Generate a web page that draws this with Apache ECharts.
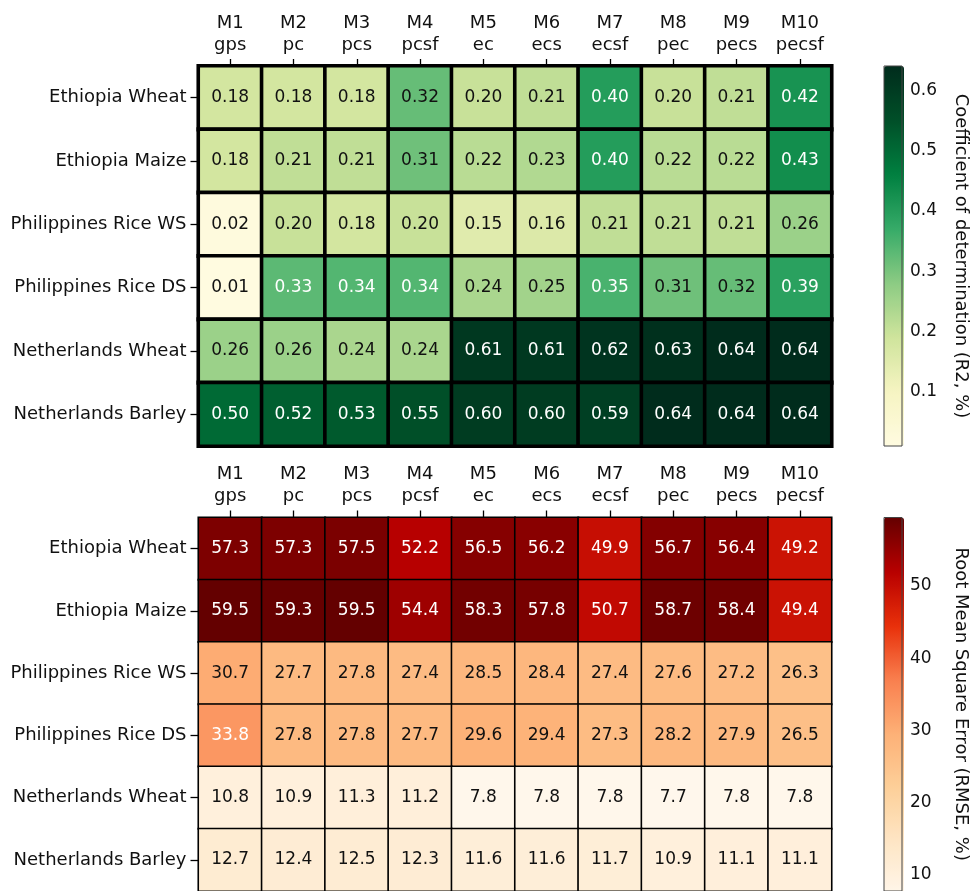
<!DOCTYPE html>
<html>
<head>
<meta charset="utf-8">
<script src="https://cdn.jsdelivr.net/npm/echarts@6/dist/echarts.min.js"></script>
<style>
html,body{margin:0;padding:0;background:#fff;}
#chart{width:971px;height:891px;}
</style>
</head>
<body>
<div id="chart"></div>
<script>
// ---- data ----
var rowLabels = ['Ethiopia Wheat','Ethiopia Maize','Philippines Rice WS','Philippines Rice DS','Netherlands Wheat','Netherlands Barley'];
var modelLabels = ['M1\ngps','M2\npc','M3\npcs','M4\npcsf','M5\nec','M6\necs','M7\necsf','M8\npec','M9\npecs','M10\npecsf'];

var r2EthiopiaWheat      = [0.18,0.18,0.18,0.32,0.20,0.21,0.40,0.20,0.21,0.42];
var r2EthiopiaMaize      = [0.18,0.21,0.21,0.31,0.22,0.23,0.40,0.22,0.22,0.43];
var r2PhilippinesRiceWS  = [0.02,0.20,0.18,0.20,0.15,0.16,0.21,0.21,0.21,0.26];
var r2PhilippinesRiceDS  = [0.01,0.33,0.34,0.34,0.24,0.25,0.35,0.31,0.32,0.39];
var r2NetherlandsWheat   = [0.26,0.26,0.24,0.24,0.61,0.61,0.62,0.63,0.64,0.64];
var r2NetherlandsBarley  = [0.50,0.52,0.53,0.55,0.60,0.60,0.59,0.64,0.64,0.64];

var rmseEthiopiaWheat     = [57.3,57.3,57.5,52.2,56.5,56.2,49.9,56.7,56.4,49.2];
var rmseEthiopiaMaize     = [59.5,59.3,59.5,54.4,58.3,57.8,50.7,58.7,58.4,49.4];
var rmsePhilippinesRiceWS = [30.7,27.7,27.8,27.4,28.5,28.4,27.4,27.6,27.2,26.3];
var rmsePhilippinesRiceDS = [33.8,27.8,27.8,27.7,29.6,29.4,27.3,28.2,27.9,26.5];
var rmseNetherlandsWheat  = [10.8,10.9,11.3,11.2,7.8,7.8,7.8,7.7,7.8,7.8];
var rmseNetherlandsBarley = [12.7,12.4,12.5,12.3,11.6,11.6,11.7,10.9,11.1,11.1];

var r2Ticks = [0.1,0.2,0.3,0.4,0.5,0.6];
var rmseTicks = [10,20,30,40,50];

var r2Rows = [r2EthiopiaWheat,r2EthiopiaMaize,r2PhilippinesRiceWS,r2PhilippinesRiceDS,r2NetherlandsWheat,r2NetherlandsBarley];
var rmseRows = [rmseEthiopiaWheat,rmseEthiopiaMaize,rmsePhilippinesRiceWS,rmsePhilippinesRiceDS,rmseNetherlandsWheat,rmseNetherlandsBarley];

function toCells(rows){
  var out = [];
  rows.forEach(function(r, i){ r.forEach(function(v, j){ out.push([j, i, v]); }); });
  return out;
}
function flatMin(rows){ return Math.min.apply(null, [].concat.apply([], rows)); }
function flatMax(rows){ return Math.max.apply(null, [].concat.apply([], rows)); }

var r2Min = flatMin(r2Rows), r2Max = flatMax(r2Rows);
var rmseMin = flatMin(rmseRows), rmseMax = flatMax(rmseRows);

var FONT = 'DejaVu Sans';
var FS = 17;     // numbers
var FSL = 18;    // axis text labels
var GL = 198.5, GW = 633, GH = 380;
var TOP1 = 66, TOP2 = 517.5;
var CBL = 884, CBW = 20;

var greens = ['#fffbe0','#f6f4c2','#cfe49c','#8ccb83','#36ab68','#008040','#004f28','#002c1c'];
var reds   = ['#fff7ec','#fee6c6','#fdd09a','#fdb177','#f9804f','#e8300a','#b80000','#640000'];

function catX(gi){
  return {
    type:'category', gridIndex:gi, data:modelLabels, position:'top',
    axisLine:{show:false},
    axisTick:{show:true, alignWithLabel:true, length:7, lineStyle:{color:'#000', width:1.3}},
    axisLabel:{fontFamily:FONT, fontSize:FSL, color:'#111', lineHeight:22, margin:10, interval:0},
    splitLine:{show:false}
  };
}
function catY(gi){
  return {
    type:'category', gridIndex:gi, data:rowLabels, inverse:true,
    axisLine:{show:false},
    axisTick:{show:true, alignWithLabel:true, length:8, lineStyle:{color:'#000', width:1.3}},
    axisLabel:{fontFamily:FONT, fontSize:FSL, color:'#111', margin:12, interval:0},
    splitLine:{show:false}
  };
}
function cbY(gi, mn, mx, ticks, name){
  return {
    type:'value', gridIndex:gi, position:'right', min:mn, max:mx,
    axisLine:{show:false},
    axisTick:{show:true, length:5, customValues:ticks, lineStyle:{color:'#000', width:1.2}},
    axisLabel:{fontFamily:FONT, fontSize:FS, color:'#111', margin:8, customValues:ticks,
      formatter:function(v){ return mx < 1 ? v.toFixed(1) : String(Math.round(v)); }},
    splitLine:{show:false},
    name:name, nameLocation:'middle', nameRotate:-90, nameGap:50,
    nameTextStyle:{fontFamily:FONT, fontSize:FSL, color:'#111'}
  };
}
function cbX(gi){
  return {type:'value', gridIndex:gi, show:false, min:0, max:1};
}

var option = {
  backgroundColor:'#fff',
  animation:false,
  grid:[
    {left:GL, top:TOP1, width:GW, height:GH},
    {left:GL, top:TOP2, width:GW, height:GH},
    {left:CBL, top:TOP1, width:CBW, height:GH, show:true, z:10, backgroundColor:'transparent', borderColor:'#444', borderWidth:1},
    {left:CBL, top:TOP2, width:CBW, height:GH, show:true, z:10, backgroundColor:'transparent', borderColor:'#444', borderWidth:1}
  ],
  xAxis:[catX(0), catX(1), cbX(2), cbX(3)],
  yAxis:[catY(0), catY(1),
    cbY(2, r2Min, r2Max, r2Ticks, 'Coefficient of determination (R2, %)'),
    cbY(3, rmseMin, rmseMax, rmseTicks, 'Root Mean Square Error (RMSE, %)')],
  visualMap:[
    {type:'continuous', seriesIndex:0, dimension:2, min:r2Min, max:r2Max, inRange:{color:greens},
     left:CBL, top:TOP1, itemWidth:CBW, itemHeight:GH, padding:0, calculable:false, hoverLink:false, text:null, z:4},
    {type:'continuous', seriesIndex:1, dimension:2, min:rmseMin, max:rmseMax, inRange:{color:reds},
     left:CBL, top:TOP2, itemWidth:CBW, itemHeight:GH, padding:0, calculable:false, hoverLink:false, text:null, z:4}
  ],
  series:[
    {type:'heatmap', xAxisIndex:0, yAxisIndex:0, data:toCells(r2Rows),
     itemStyle:{borderColor:'#000', borderWidth:3.6},
     emphasis:{disabled:true},
     label:{show:true, fontFamily:FONT, fontSize:FS,
       formatter:function(p){ var v=p.value[2]; return '{' + (v>0.325?'w':'k') + '|' + v.toFixed(2) + '}'; },
       rich:{w:{color:'#fff', fontFamily:FONT, fontSize:FS}, k:{color:'#111', fontFamily:FONT, fontSize:FS}}}
    },
    {type:'heatmap', xAxisIndex:1, yAxisIndex:1, data:toCells(rmseRows),
     itemStyle:{borderColor:'#000', borderWidth:1.6},
     emphasis:{disabled:true},
     label:{show:true, fontFamily:FONT, fontSize:FS,
       formatter:function(p){ var v=p.value[2]; return '{' + (v>32?'w':'k') + '|' + v.toFixed(1) + '}'; },
       rich:{w:{color:'#fff', fontFamily:FONT, fontSize:FS}, k:{color:'#111', fontFamily:FONT, fontSize:FS}}}
    }
  ]
};

var chart = echarts.init(document.getElementById('chart'), null, {renderer:'canvas'});
chart.setOption(option);
</script>
</body>
</html>
